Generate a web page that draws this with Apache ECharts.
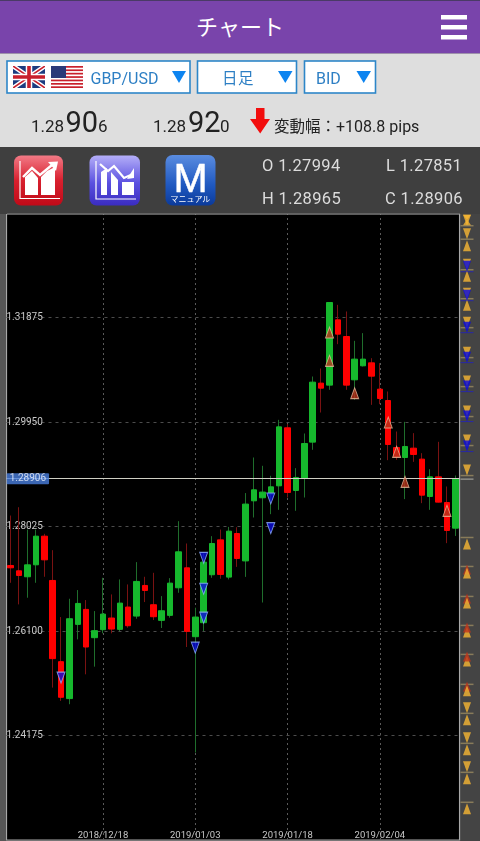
<!DOCTYPE html>
<html><head><meta charset="utf-8">
<style>
html,body{margin:0;padding:0;width:480px;height:841px;overflow:hidden;background:#444}
#c{position:absolute;left:0;top:0;width:480px;height:841px}
#h{position:absolute;left:0;top:0;z-index:5;display:block}
#l{position:absolute;left:0;top:214px;width:6px;height:627px;background:#565656;z-index:4}
</style>
<script src="https://cdn.jsdelivr.net/npm/echarts@6/dist/echarts.min.js"></script>
</head><body>
<div id="c"></div>
<div id="l"></div>
<svg id="h" width="480" height="215" viewBox="0 0 480 215" xmlns="http://www.w3.org/2000/svg" font-family="Roboto, 'Noto Sans CJK JP', sans-serif">
<defs>
<linearGradient id="gr" x1="0" y1="0" x2="0" y2="1"><stop offset="0" stop-color="#f27a86"/><stop offset=".5" stop-color="#d8202e"/><stop offset="1" stop-color="#c00a18"/></linearGradient>
<linearGradient id="gb" x1="0" y1="0" x2="0" y2="1"><stop offset="0" stop-color="#b4aef8"/><stop offset=".55" stop-color="#5a50e0"/><stop offset="1" stop-color="#3a2cc0"/></linearGradient>
<linearGradient id="gm" x1="0" y1="0" x2="0" y2="1"><stop offset="0" stop-color="#5a8ce0"/><stop offset=".6" stop-color="#1f58c0"/><stop offset="1" stop-color="#0b3a9a"/></linearGradient>
<clipPath id="uk"><rect x="13" y="66" width="32" height="22"/></clipPath>
</defs>
<rect width="480" height="53.5" fill="#7944ab"/><rect width="480" height="1" fill="#4a3a66"/>
<text x="240" y="35" text-anchor="middle" fill="#fff" font-size="22" font-family="'Noto Sans CJK JP'">チャート</text>
<g fill="#fff"><rect x="441" y="15" width="26" height="4.5"/><rect x="441" y="25" width="26" height="4.5"/><rect x="441" y="35" width="26" height="4.5"/></g>
<rect y="53.5" width="480" height="94" fill="#dedede"/>
<g fill="#fff" stroke="#2d86c8" stroke-width="1.6"><rect x="7" y="61" width="183" height="32"/><rect x="197.5" y="61" width="99" height="32"/><rect x="304.5" y="61" width="71" height="32"/></g>
<g clip-path="url(#uk)"><rect x="13" y="66" width="32" height="22" fill="#1c3c80"/>
<path d="M13 66L45 88M45 66L13 88" stroke="#fff" stroke-width="4.5"/><path d="M13 66L45 88M45 66L13 88" stroke="#c8202c" stroke-width="1.6"/>
<path d="M29 66V88M13 77H45" stroke="#fff" stroke-width="6.5"/><path d="M29 66V88M13 77H45" stroke="#c8202c" stroke-width="3.6"/></g>
<g><rect x="51" y="66" width="32" height="22" fill="#fff"/>
<g fill="#c8202c"><rect x="51" y="66" width="32" height="1.7"/><rect x="51" y="69.4" width="32" height="1.7"/><rect x="51" y="72.8" width="32" height="1.7"/><rect x="51" y="76.2" width="32" height="1.7"/><rect x="51" y="79.6" width="32" height="1.7"/><rect x="51" y="83" width="32" height="1.7"/><rect x="51" y="86.3" width="32" height="1.7"/></g>
<rect x="51" y="66" width="15" height="12" fill="#2a3a78"/></g>
<g fill="#2d7fc4" font-size="16"><text x="90.5" y="83.5">GBP/USD</text><text x="222" y="84" font-family="'Noto Sans CJK JP'" font-size="15.5" letter-spacing=".5">日足</text><text x="316" y="83.5">BID</text></g>
<g fill="#0d84f0"><path d="M172 71H186L179 83Z"/><path d="M278 71H292.500L285.300 83Z"/><path d="M356.500 71H371L363.700 83Z"/></g>
<g fill="#222">
<text x="31" y="132" font-size="17">1.28</text><text x="65.500" y="132" font-size="29">90</text><text x="98" y="132" font-size="17">6</text>
<text x="153" y="132" font-size="17">1.28</text><text x="188" y="132" font-size="29">92</text><text x="220" y="132" font-size="17">0</text>
<text x="274" y="132" font-size="15.500" font-family="'Noto Sans CJK JP'">変動幅：<tspan font-family="Roboto" font-size="16">+108.8 pips</tspan></text>
</g>
<path d="M256 108H264.500V119H270L260.200 133.500L250 119H256Z" fill="#f20d0d"/>
<rect y="147" width="480" height="67" fill="#3f3f3f"/>
<rect x="14" y="155.500" width="49" height="50" rx="7" fill="url(#gr)"/>
<g fill="none" stroke="#fff" stroke-width="1.200"><path d="M20 161V198.500H60"/></g>
<path d="M25 195V177L32 171L38 178V195ZM41 195V177L47 171L55 167V195Z" fill="#fff"/>
<path d="M23 177L32 168L40 175L52 165" fill="none" stroke="#fff" stroke-width="2.400"/><path d="M48 162L58 161.500L56 171Z" fill="#fff"/>
<rect x="89.500" y="155.500" width="50.500" height="50" rx="7" fill="url(#gb)"/>
<g fill="none" stroke="#fff" stroke-width="1.200"><path d="M96 161V199H136"/></g>
<path d="M101 195V172L107 168V195ZM111 195V172L118 180V195ZM122 195V182H134V195Z" fill="#fff"/>
<path d="M100 164L108 171L114 166L124 178L133 174" fill="none" stroke="#fff" stroke-width="2.200"/><path d="M127 179L134 168L134 178Z" fill="#fff"/>
<rect x="165.500" y="155" width="50" height="50.500" rx="7" fill="url(#gm)"/>
<text x="190.500" y="192" text-anchor="middle" fill="#fff" stroke="#fff" stroke-width=".5" font-size="41" font-family="'Liberation Sans'">M</text>
<text x="190.500" y="202" text-anchor="middle" fill="#fff" font-size="8" font-family="'Noto Sans CJK JP'">マニュアル</text>
<g fill="#dcdcdc" font-size="16.500" letter-spacing=".35">
<text x="262" y="171">O 1.27994</text><text x="386" y="171">L 1.27851</text>
<text x="262" y="204">H 1.28965</text><text x="385" y="204">C 1.28906</text>
</g>
<rect x="7" y="213.600" width="453" height="1" fill="#9a9a9a"/>
</svg>
<script>
var categories=['2018/12/03','2018/12/04','2018/12/05','2018/12/06','2018/12/07','2018/12/10','2018/12/11','2018/12/12','2018/12/13','2018/12/14','2018/12/17','2018/12/18','2018/12/19','2018/12/20','2018/12/21','2018/12/24','2018/12/26','2018/12/27','2018/12/28','2018/12/31','2019/01/01','2019/01/02','2019/01/03','2019/01/04','2019/01/07','2019/01/08','2019/01/09','2019/01/10','2019/01/11','2019/01/14','2019/01/15','2019/01/16','2019/01/17','2019/01/18','2019/01/21','2019/01/22','2019/01/23','2019/01/24','2019/01/25','2019/01/28','2019/01/29','2019/01/30','2019/01/31','2019/02/01','2019/02/04','2019/02/05','2019/02/06','2019/02/07','2019/02/08','2019/02/11','2019/02/12','2019/02/13','2019/02/14','2019/02/15'];
var opens=[1.27307,1.27209,1.27099,1.27319,1.27847,1.27031,1.25535,1.24855,1.26222,1.26498,1.25977,1.26124,1.26339,1.26130,1.26541,1.26375,1.26939,1.26584,1.26296,1.26388,1.26896,1.27264,1.25995,1.26253,1.27136,1.27779,1.27093,1.27896,1.27391,1.28498,1.28554,1.28622,1.28774,1.29843,1.28688,1.28909,1.29579,1.30666,1.30629,1.31832,1.31525,1.30727,1.30985,1.31040,1.30555,1.30346,1.29480,1.29296,1.29468,1.29266,1.28578,1.28940,1.28467,1.27994];
var closes=[1.27264,1.27123,1.27319,1.27847,1.27411,1.25591,1.24879,1.26326,1.26608,1.25805,1.26106,1.26412,1.26136,1.26614,1.26197,1.27013,1.26847,1.26363,1.26473,1.26982,1.27559,1.26093,1.26357,1.27369,1.27712,1.27142,1.27939,1.27436,1.28438,1.28701,1.28659,1.28756,1.29861,1.28652,1.28928,1.29554,1.30684,1.30573,1.32151,1.31568,1.30629,1.31108,1.31108,1.30794,1.30383,1.29536,1.29309,1.29499,1.29352,1.28602,1.28940,1.28474,1.27952,1.28906];
var lows=[1.26988,1.26590,1.26713,1.26988,1.27099,1.25057,1.24812,1.24751,1.25946,1.25302,1.25443,1.26057,1.26057,1.26099,1.26161,1.26326,1.26633,1.26302,1.26155,1.26345,1.26804,1.25805,1.23862,1.26099,1.27080,1.27062,1.27050,1.27281,1.27097,1.28191,1.26625,1.28252,1.28332,1.28559,1.28314,1.28559,1.29438,1.30125,1.30543,1.31384,1.30543,1.30359,1.30973,1.30266,1.30279,1.29247,1.29253,1.28529,1.29216,1.28455,1.28332,1.28468,1.27718,1.27851];
var highs=[1.28227,1.28380,1.27969,1.27969,1.27890,1.27589,1.26357,1.26694,1.26854,1.26670,1.26467,1.27080,1.26774,1.27050,1.26958,1.27369,1.27099,1.27172,1.26743,1.27074,1.28123,1.27712,1.26529,1.27528,1.27847,1.27969,1.28018,1.28012,1.28641,1.29296,1.29143,1.28959,1.29990,1.29910,1.29100,1.29738,1.30788,1.30936,1.32151,1.32108,1.31986,1.31445,1.31587,1.31126,1.31034,1.30512,1.29775,1.29953,1.29745,1.29376,1.29081,1.29585,1.28762,1.28965];
var blueSignals=[[6,1.25241],[22,1.25793],[23,1.27448],[23,1.26878],[23,1.26345],[31,1.28541],[31,1.27995]];
var redSignals=[[38,1.31599],[38,1.31077],[41,1.30481],[45,1.29941],[46,1.29401],[47,1.28848],[52,1.28314]];
var currentPrice=1.28906;
var sideDownLevels=[1.33566,1.33318,1.32757,1.32224,1.31691,1.31140,1.30607,1.30056,1.29523,1.28971,1.24598,1.24046,1.23513];
var sideUpLevels=[1.33318,1.32757,1.32224,1.27832,1.27299,1.26748,1.26215,1.25682,1.25131,1.24598,1.24046,1.23513,1.22962];
var sideLineLevels=[1.33566,1.33318,1.32757,1.32224,1.31691,1.31140,1.30607,1.30056,1.29523,1.28971,1.27832,1.27299,1.26748,1.26215,1.25682,1.25131,1.24598,1.24046,1.23513,1.22962];
var sideBlueLevels=[1.32720,1.32187,1.31599,1.31048,1.30515,1.29964,1.29412];
var sideRedUnder=[1.27354,1.26821,1.25204];
var sideRedOver=[1.26288,1.25755];
var sideTopDown=[1.33722];
var sideTopUp=[1.33630];

var wicks=categories.map(function(_,i){return [opens[i],closes[i],lows[i],highs[i]];});
var bodies=categories.map(function(_,i){return [opens[i],closes[i],Math.min(opens[i],closes[i]),Math.max(opens[i],closes[i])];});
var pts=function(a){return a.map(function(v){return [0.5,v];});};
var showDate=function(i){return i>0&&i%11===0;};
var yBase={type:'value',min:1.2225,max:1.338,interval:0.01925,scale:true};
var ORANGE='#f7b733';
function side(name,data,symbol,size,rotate,offset,color,extra){
  return Object.assign({name:name,type:'scatter',xAxisIndex:1,yAxisIndex:1,data:pts(data),symbol:symbol,symbolSize:size,symbolRotate:rotate,symbolOffset:offset,itemStyle:{color:color},silent:true,animation:false},extra||{});
}
var chart=echarts.init(document.getElementById('c'),null,{renderer:'canvas'});
chart.setOption({
  animation:false,
  backgroundColor:'#444',
  grid:[
    {left:6.5,top:213,width:453.06,height:628.5,show:true,backgroundColor:'#000',borderColor:'#a8a8a8',borderWidth:1.2},
    {left:460,top:213,width:14,height:628.5}
  ],
  xAxis:[
    {type:'category',data:categories,axisLine:{show:false},axisTick:{show:false},
     axisLabel:{inside:true,margin:-1,interval:function(i){return showDate(i);},color:'#c8c8c8',fontSize:9.5,fontFamily:'Roboto'},
     splitLine:{show:true,alignWithLabel:true,interval:function(i){return showDate(i);},lineStyle:{color:'#5a5a5a',type:[2,3],width:1}}},
    {type:'value',gridIndex:1,min:0,max:1,show:false}
  ],
  yAxis:[
    Object.assign({},yBase,{axisLine:{show:false},axisTick:{show:false},
      axisLabel:{inside:true,margin:0,showMinLabel:false,showMaxLabel:false,color:'#c8c8c8',fontSize:10,fontFamily:'Roboto',formatter:function(v){return v.toFixed(5);}},
      splitLine:{show:true,showMinLine:false,showMaxLine:false,lineStyle:{color:'#4c4c4c',type:[3,4],width:1}}}),
    Object.assign({},yBase,{gridIndex:1,show:false,splitLine:{show:false}})
  ],
  series:[
    {name:'wick',type:'candlestick',data:wicks,barWidth:1,itemStyle:{color:'#1f6e2c',color0:'#7a1212',borderColor:'#1f6e2c',borderColor0:'#7a1212',borderWidth:1},z:3,silent:true},
    {name:'body',type:'candlestick',data:bodies,barWidth:6,itemStyle:{color:'#16b82d',color0:'#ff0000',borderColor:'#16b82d',borderColor0:'#ff0000',borderWidth:1},z:4,silent:true},
    {name:'sell',type:'scatter',data:blueSignals,symbol:'triangle',symbolSize:[8,11],symbolRotate:180,itemStyle:{color:'#0c0cdc',borderColor:'#8fb0ff',borderWidth:1},z:6,silent:true},
    {name:'buy',type:'scatter',data:redSignals,symbol:'triangle',symbolSize:[8,11],itemStyle:{color:'#b8321c',borderColor:'#e6b89a',borderWidth:1},z:6,silent:true},
    {name:'tag',type:'scatter',data:[[0,currentPrice]],symbolSize:0,z:7,silent:true,
     markLine:{silent:true,symbol:'none',precision:5,animation:false,label:{show:false},lineStyle:{color:'#cfcfc4',type:'solid',width:1},data:[{yAxis:currentPrice}]},
     label:{show:true,position:'right',distance:-4,formatter:function(){return currentPrice.toFixed(5);},backgroundColor:'#4a80e0',color:'#f0f5ff',fontSize:10,fontFamily:'Roboto',padding:[1,3,0,3],borderRadius:1}},
    side('sideLines',sideLineLevels,'rect',[13,1.5],0,[0,0],'#9a8a60',{z:5}),
    side('sideRedUnder',sideRedUnder,'triangle',[8,10],0,[0,6],'#b8321c',{z:5}),
    side('sideDown',sideDownLevels,'triangle',[8,11],180,[0,-5.5],ORANGE,{z:6}),
    side('sideUp',sideUpLevels,'triangle',[8,11],0,[0,6.5],ORANGE,{z:6}),
    side('sideTopDown',sideTopDown,'triangle',[8,5],180,[0,0],ORANGE,{z:6}),
    side('sideTopUp',sideTopUp,'triangle',[8,6],0,[0,0],ORANGE,{z:6}),
    side('sideRedOver',sideRedOver,'triangle',[8,10],0,[0,6],'#c0341a',{z:7}),
    side('sideBlueLines',sideBlueLevels,'rect',[13,1],0,[0,0],'#2020c0',{z:5}),
    side('sideBlue',sideBlueLevels,'triangle',[8,11],180,[0,-5.5],'#0a0ae0',{z:7}),
    {name:'sideCurrent',type:'scatter',xAxisIndex:1,yAxisIndex:1,data:[[0.5,currentPrice]],symbol:'rect',symbolSize:[13,1],itemStyle:{color:'#cfcfc4'},z:5,silent:true}
  ]
});
</script>
</body></html>
